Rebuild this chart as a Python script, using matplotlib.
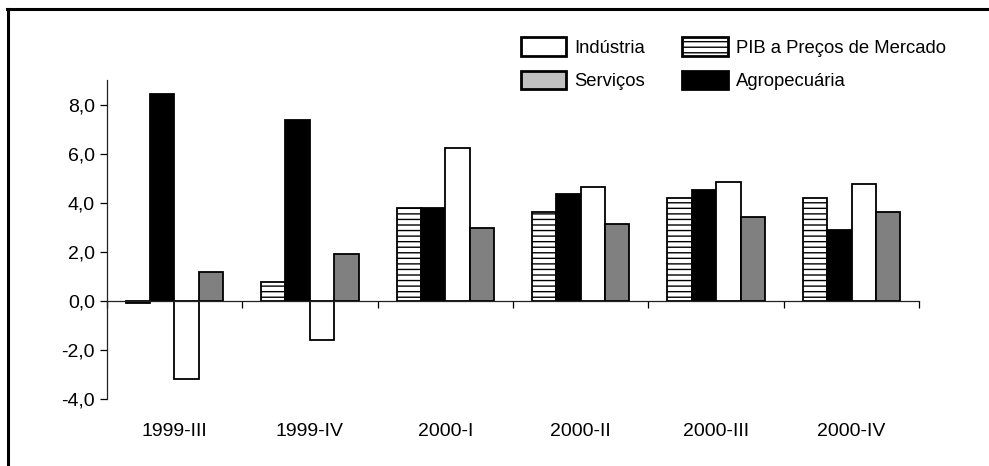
import matplotlib
matplotlib.use("Agg")
import matplotlib.pyplot as plt
import numpy as np
from matplotlib.patches import Patch
from matplotlib.lines import Line2D
from matplotlib.ticker import FuncFormatter

plt.rcParams['font.family'] = ['Liberation Sans', 'DejaVu Sans']
plt.rcParams['hatch.linewidth'] = 1.0

categories = ["1999-III", "1999-IV", "2000-I", "2000-II", "2000-III", "2000-IV"]
pib = [-0.1, 0.77, 3.80, 3.64, 4.18, 4.18]
agro = [8.45, 7.38, 3.80, 4.35, 4.51, 2.89]
industria = [-3.20, -1.58, 6.24, 4.66, 4.86, 4.77]
servicos = [1.19, 1.90, 2.97, 3.15, 3.41, 3.64]
yticks = [-4, -2, 0, 2, 4, 6, 8]

fig = plt.figure(figsize=(9.89, 4.66), dpi=100)
ax = fig.add_axes([0.1079, 0.1438, 0.8216, 0.6845])

x = np.arange(len(categories))
w = 0.18
ax.bar(x - 1.5 * w, pib, w, facecolor='white', edgecolor='black', hatch='---', linewidth=1.3)
ax.bar(x - 0.5 * w, agro, w, facecolor='black', edgecolor='black', linewidth=1.3)
ax.bar(x + 0.5 * w, industria, w, facecolor='white', edgecolor='black', linewidth=1.3)
ax.bar(x + 1.5 * w, servicos, w, facecolor='#808080', edgecolor='black', linewidth=1.3)

ax.set_xlim(-0.5, len(categories) - 0.5)
ax.set_ylim(-4, 9)
ax.spines['top'].set_visible(False)
ax.spines['right'].set_visible(False)
ax.spines['bottom'].set_position(('data', 0))
ax.spines['bottom'].set_bounds(-0.5, len(categories) - 0.5)
ax.spines['left'].set_bounds(-4, 9)
for s in ['left', 'bottom']:
    ax.spines[s].set_linewidth(0.9)
    ax.spines[s].set_color('#222222')

ax.set_yticks(yticks)
ax.yaxis.set_major_formatter(FuncFormatter(lambda v, p: f"{v:.1f}".replace('.', ',')))
ax.tick_params(axis='y', direction='out', length=5, width=0.9, pad=3.5, labelsize=14)

ax.set_xticks(np.arange(len(categories) + 1) - 0.5)
ax.set_xticklabels([])
ax.tick_params(axis='x', direction='out', length=5, width=0.9)

sec = ax.secondary_xaxis('bottom')
sec.set_xticks(x)
sec.set_xticklabels(categories)
sec.tick_params(axis='x', length=0, pad=17, labelsize=14)
sec.spines['bottom'].set_visible(False)

handles = [
    Patch(facecolor='white', edgecolor='black', linewidth=2, label='Indústria'),
    Patch(facecolor='#c0c0c0', edgecolor='black', linewidth=2, label='Serviços'),
    Patch(facecolor='white', edgecolor='black', linewidth=2, hatch='---', label='PIB a Preços de Mercado'),
    Patch(facecolor='black', edgecolor='black', linewidth=2, label='Agropecuária'),
]
fig.legend(handles=handles, ncol=2, loc='upper left', bbox_to_anchor=(521 / 989, 1 - 37 / 466),
           frameon=False, fontsize=13.3, handlelength=2.45, handleheight=1.2, handletextpad=0.45,
           columnspacing=2.0, labelspacing=0.75, borderpad=0, borderaxespad=0)

# outer frame (top and left visible)
fig.add_artist(Line2D([7 / 989, 1.0], [1 - 8.5 / 466, 1 - 8.5 / 466], transform=fig.transFigure,
                      color='black', linewidth=2.2, solid_capstyle='projecting'))
fig.add_artist(Line2D([8 / 989, 8 / 989], [1 - 8.5 / 466, 0.0], transform=fig.transFigure,
                      color='black', linewidth=2.2, solid_capstyle='projecting'))

fig.savefig('out.png', dpi=100)
